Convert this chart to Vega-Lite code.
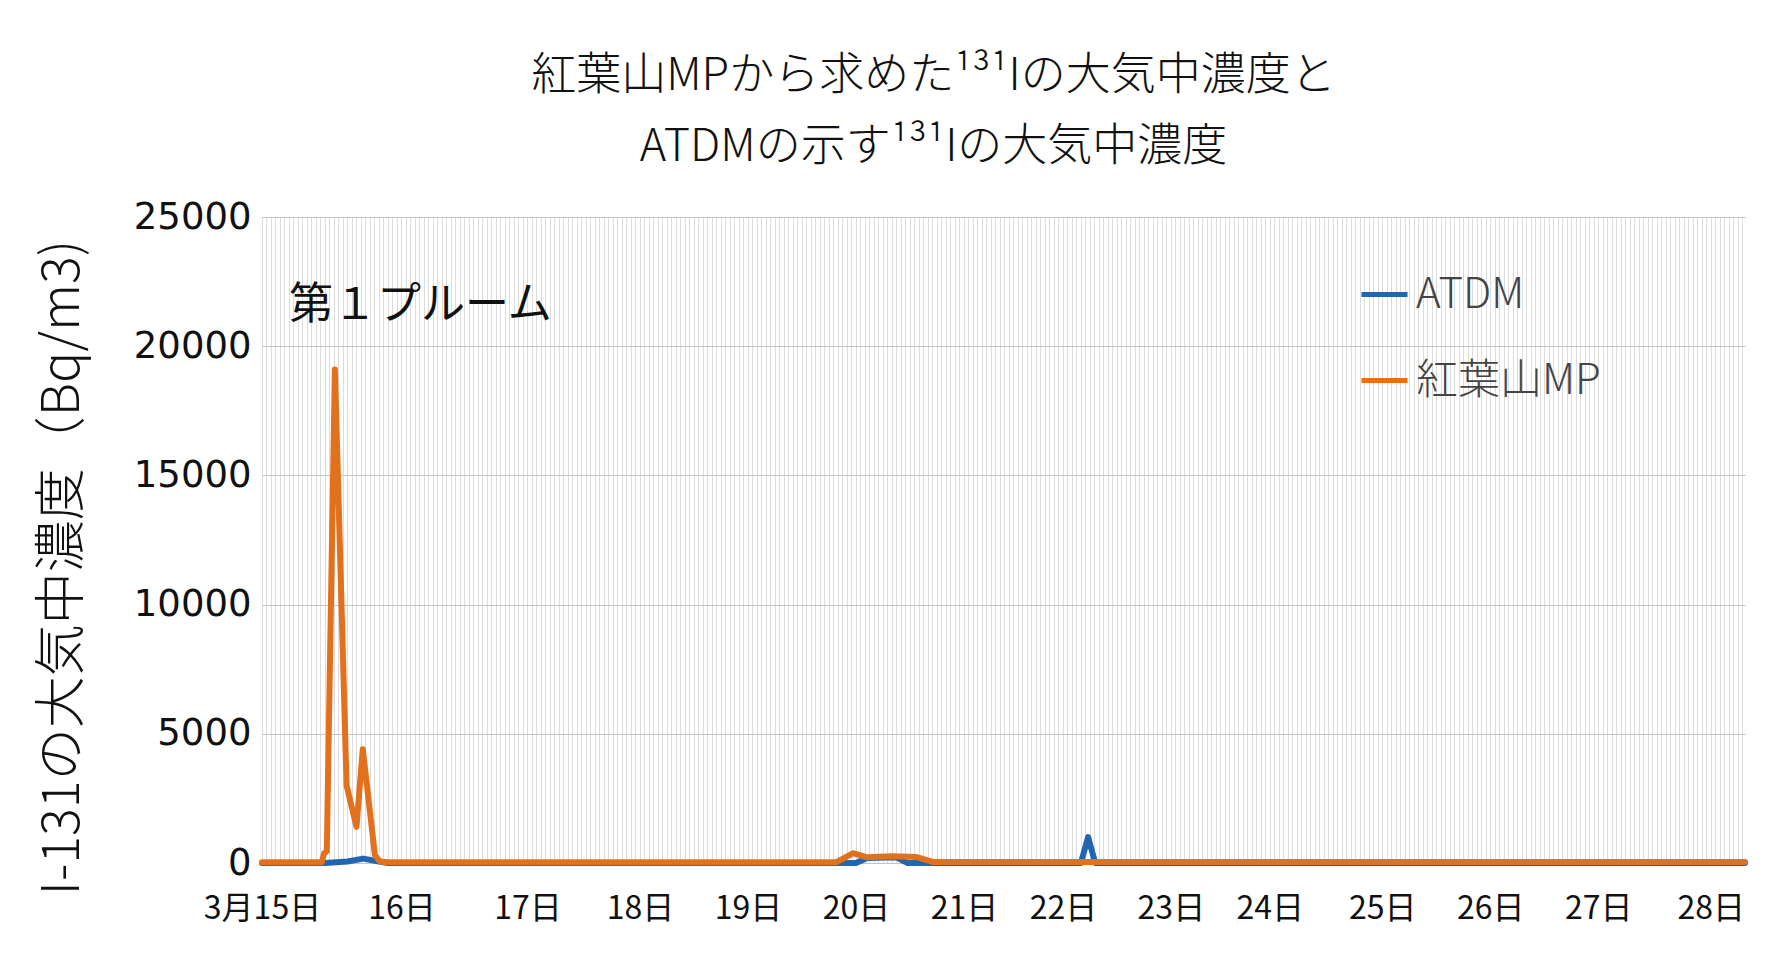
{
  "$schema": "https://vega.github.io/schema/vega-lite/v6.json",
  "width": 1483,
  "height": 646,
  "autosize": {"type": "none"},
  "padding": {"left": 262, "top": 217, "right": 31, "bottom": 115},
  "background": "white",
  "title": {
    "text": ["紅葉山MPから求めた¹³¹Iの大気中濃度と", "ATDMの示す¹³¹Iの大気中濃度"],
    "font": "Noto Sans CJK JP",
    "fontSize": 45,
    "fontWeight": 300,
    "color": "#111111",
    "anchor": "middle",
    "dx": -70,
    "offset": 28,
    "lineHeight": 71
  },
  "config": {
    "view": {"stroke": null}
  },
  "datasets": {
    "series": [
      {"idx": 0, "val": 0, "series": "ATDM"},
      {"idx": 14, "val": 0, "series": "ATDM"},
      {"idx": 19, "val": 60, "series": "ATDM"},
      {"idx": 22.5, "val": 170, "series": "ATDM"},
      {"idx": 26, "val": 60, "series": "ATDM"},
      {"idx": 28, "val": 0, "series": "ATDM"},
      {"idx": 132, "val": 0, "series": "ATDM"},
      {"idx": 134.5, "val": 190, "series": "ATDM"},
      {"idx": 141, "val": 220, "series": "ATDM"},
      {"idx": 143.5, "val": 0, "series": "ATDM"},
      {"idx": 182, "val": 0, "series": "ATDM"},
      {"idx": 183.6, "val": 1000, "series": "ATDM"},
      {"idx": 185.2, "val": 0, "series": "ATDM"},
      {"idx": 329.6, "val": 0, "series": "ATDM"},
      {"idx": 0, "val": 30, "series": "紅葉山MP"},
      {"idx": 13.3, "val": 30, "series": "紅葉山MP"},
      {"idx": 13.8, "val": 380, "series": "紅葉山MP"},
      {"idx": 14.4, "val": 450, "series": "紅葉山MP"},
      {"idx": 16.2, "val": 19100, "series": "紅葉山MP"},
      {"idx": 18.8, "val": 3000, "series": "紅葉山MP"},
      {"idx": 21, "val": 1400, "series": "紅葉山MP"},
      {"idx": 22.4, "val": 4400, "series": "紅葉山MP"},
      {"idx": 25.1, "val": 300, "series": "紅葉山MP"},
      {"idx": 26.2, "val": 60, "series": "紅葉山MP"},
      {"idx": 28, "val": 30, "series": "紅葉山MP"},
      {"idx": 127.7, "val": 30, "series": "紅葉山MP"},
      {"idx": 131.4, "val": 380, "series": "紅葉山MP"},
      {"idx": 134.4, "val": 220, "series": "紅葉山MP"},
      {"idx": 140, "val": 260, "series": "紅葉山MP"},
      {"idx": 145.5, "val": 230, "series": "紅葉山MP"},
      {"idx": 149.1, "val": 40, "series": "紅葉山MP"},
      {"idx": 329.6, "val": 40, "series": "紅葉山MP"}
    ],
    "notes": [
      {"idx": 6, "val": 21550, "label": "第１プルーム"}
    ]
  },
  "layer": [
    {
      "data": {"name": "series"},
      "mark": {"type": "line", "strokeWidth": 6, "strokeJoin": "round", "strokeCap": "round"},
      "encoding": {
        "x": {
          "field": "idx",
          "type": "quantitative",
          "scale": {"domain": [0, 329.6], "nice": false, "zero": false},
          "axis": {
            "title": null,
            "tickCount": 330,
            "grid": true,
            "gridColor": "#dcdcdc",
            "gridWidth": 1,
            "ticks": false,
            "domain": false,
            "labelOverlap": false,
            "labelFlush": false,
            "labelBound": false,
            "labelFont": "Noto Sans CJK JP",
            "labelFontSize": 32,
            "labelColor": "#111111",
            "labelPadding": 30,
            "labelExpr": "indexof([0,31,59,84,108,132,156,178,202,224,249,273,297,322], datum.value) < 0 ? '' : ['3月15日','16日','17日','18日','19日','20日','21日','22日','23日','24日','25日','26日','27日','28日'][indexof([0,31,59,84,108,132,156,178,202,224,249,273,297,322], datum.value)]"
          }
        },
        "y": {
          "field": "val",
          "type": "quantitative",
          "scale": {"domain": [0, 25000], "nice": false},
          "axis": {
            "values": [0, 5000, 10000, 15000, 20000, 25000],
            "format": "d",
            "grid": true,
            "gridColor": "#c4c4c4",
            "ticks": false,
            "domain": false,
            "labelFont": "DejaVu Sans",
            "labelFontSize": 37,
            "labelColor": "#111111",
            "labelPadding": 11,
            "title": "I-131の大気中濃度（Bq/m3)",
            "titleFont": "Noto Sans CJK JP",
            "titleFontSize": 52,
            "titleFontWeight": 300,
            "titleColor": "#111111",
            "titleAngle": -90,
            "titleAlign": "center",
            "titleBaseline": "middle",
            "titleX": -200,
            "titleY": 350
          }
        },
        "color": {
          "field": "series",
          "type": "nominal",
          "scale": {"domain": ["ATDM", "紅葉山MP"], "range": ["#2166ae", "#e2711d"]},
          "legend": {
            "title": null,
            "orient": "none",
            "legendX": 1097,
            "legendY": 52,
            "padding": 0,
            "symbolType": "stroke",
            "symbolStrokeWidth": 5,
            "symbolSize": 2116,
            "labelFont": "Noto Sans CJK JP",
            "labelFontSize": 42,
            "labelFontWeight": 300,
            "labelColor": "#444444",
            "labelOffset": 6,
            "labelLimit": 0,
            "rowPadding": 39
          }
        }
      }
    },
    {
      "data": {"name": "notes"},
      "mark": {"type": "text", "align": "left", "baseline": "middle", "font": "Noto Sans CJK JP", "fontSize": 44, "color": "#111111"},
      "encoding": {
        "x": {"field": "idx", "type": "quantitative"},
        "y": {"field": "val", "type": "quantitative"},
        "text": {"field": "label"}
      }
    }
  ]
}
